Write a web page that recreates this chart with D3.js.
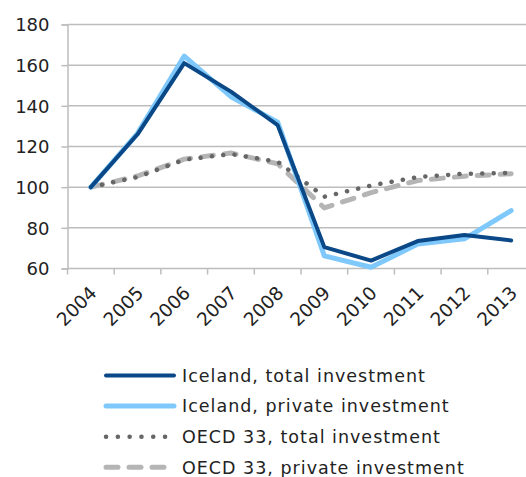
<!DOCTYPE html>
<html><head><meta charset="utf-8">
<script src="https://cdn.jsdelivr.net/npm/d3@7"></script>
<style>body{margin:0;background:#fff;}svg{display:block;font-family:"DejaVu Sans",Verdana,sans-serif;}</style>
</head><body><svg id="c" width="526" height="477"></svg>
<script>
const years = ["2004","2005","2006","2007","2008","2009","2010","2011","2012","2013"];
const icelandTotal   = [100, 126, 161, 147, 130.5, 70.5, 63.9, 73.5, 76.5, 73.8];
const icelandPrivate = [100, 126.5, 164.5, 144.5, 132, 66.2, 60.6, 72, 74.6, 88.5];
const oecdTotal      = [100, 105, 113.5, 116.3, 112.5, 95.3, 100.8, 105, 106.6, 107];
const oecdPrivate    = [100, 105.5, 113.8, 116.8, 111.5, 89.8, 97.3, 103.3, 105.4, 106.6];
const yTicks = [60, 80, 100, 120, 140, 160, 180];
const seriesNames = ["Iceland, total investment","Iceland, private investment","OECD 33, total investment","OECD 33, private investment"];

const series = [
  {name: seriesNames[0], values: icelandTotal, color:"#0a4887", width:4, dash:null},
  {name: seriesNames[1], values: icelandPrivate, color:"#7fc8fb", width:5, dash:null},
  {name: seriesNames[2], values: oecdTotal, color:"#666666", width:4.5, dash:"0.1 11.3"},
  {name: seriesNames[3], values: oecdPrivate, color:"#b5b5b5", width:5, dash:"12 11"}
];

const svg = d3.select("#c");
const mLeft = 67.5, mTop = 24.5, mBottom = 268.5;
const x = d3.scaleBand().domain(years).range([mLeft, mLeft + 467]).paddingInner(0).paddingOuter(0);
const y = d3.scaleLinear().domain([60, 180]).range([mBottom, mTop]);
const cx = d => x(d) + x.bandwidth()/2;

// gridlines
svg.append("g").selectAll("line").data(yTicks).join("line")
  .attr("x1", mLeft).attr("x2", 526)
  .attr("y1", d => y(d)).attr("y2", d => y(d))
  .attr("stroke", "#bdbdbd").attr("stroke-width", 1.5);

// y axis
const yAxis = svg.append("g").attr("transform", `translate(${mLeft},0)`)
  .call(d3.axisLeft(y).tickValues(yTicks).tickSize(6).tickPadding(12).tickFormat(d3.format("d")));
yAxis.select(".domain").attr("stroke", "#bdbdbd").attr("stroke-width", 1.5);
yAxis.selectAll(".tick line").attr("stroke", "#bdbdbd").attr("stroke-width", 1.5);
yAxis.selectAll(".tick text").attr("font-size", 18).attr("fill", "#222")
  .attr("font-family", "DejaVu Sans, Verdana, sans-serif").attr("dy", "0.36em");

// x axis ticks at category boundaries
const bounds = years.map(d => x(d));
svg.append("g").selectAll("line").data(bounds).join("line")
  .attr("x1", d => d).attr("x2", d => d).attr("y1", mBottom).attr("y2", mBottom + 6)
  .attr("stroke", "#bdbdbd").attr("stroke-width", 1.5);
svg.append("g").selectAll("text").data(years).join("text")
  .attr("transform", d => `translate(${cx(d) - 2.5},${mBottom + 16}) rotate(-45)`)
  .attr("text-anchor", "end").attr("dy", "0.73em")
  .attr("font-size", 18.5).attr("fill", "#222").text(d => d);

// lines
const line = d3.line().x((v, i) => cx(years[i])).y(v => y(v));
const drawOrder = [3, 2, 1, 0];
drawOrder.forEach(i => {
  const s = series[i];
  svg.append("path").datum(s.values).attr("d", line)
    .attr("fill", "none").attr("stroke", s.color).attr("stroke-width", s.width)
    .attr("stroke-linecap", "round").attr("stroke-linejoin", "round")
    .attr("stroke-dasharray", s.dash);
});

// legend
const lg = svg.append("g");
series.forEach((s, i) => {
  const ly = 375.5 + i * 30.6;
  lg.append("line").attr("x1", 106).attr("x2", 174).attr("y1", ly).attr("y2", ly)
    .attr("stroke", s.color).attr("stroke-width", s.width).attr("stroke-linecap", "round")
    .attr("stroke-dasharray", i === 2 ? "0.1 11.7" : (i === 3 ? "12 11" : null));
  lg.append("text").attr("x", 182).attr("y", ly).attr("dy", "0.36em")
    .attr("font-size", 17.5).attr("letter-spacing", 1).attr("fill", "#222").text(s.name);
});
</script></body></html>
